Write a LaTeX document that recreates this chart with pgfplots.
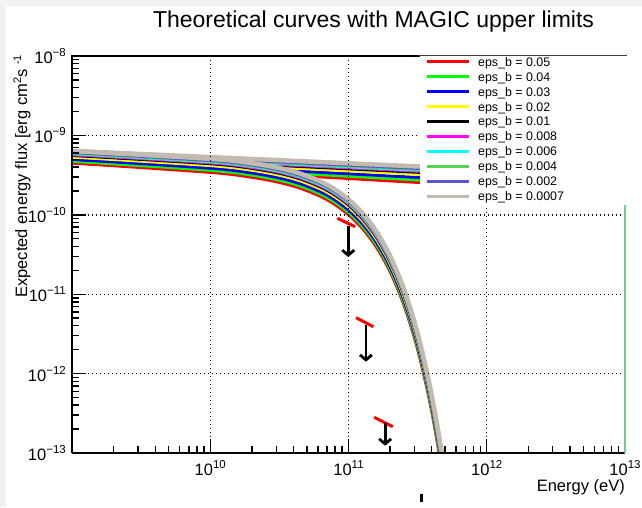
\documentclass[border=0pt]{standalone}
\usepackage{pgfplots}
\pgfplotsset{compat=1.18}
\usepackage{fontspec}
\setmainfont{Liberation Sans}
\usetikzlibrary{arrows.meta}
\definecolor{cRed}{RGB}{255,0,0}
\definecolor{cGreen}{RGB}{0,255,0}
\definecolor{cBlue}{RGB}{0,0,255}
\definecolor{cYellow}{RGB}{255,255,0}
\definecolor{cBlack}{RGB}{0,0,0}
\definecolor{cMag}{RGB}{255,0,255}
\definecolor{cCyan}{RGB}{0,255,255}
\definecolor{cSlate}{RGB}{89,84,216}
\definecolor{cGreenB}{RGB}{89,212,84}
\definecolor{cGray}{RGB}{195,186,176}
\definecolor{cMint}{RGB}{120,200,150}
\definecolor{cBg}{RGB}{242,242,242}
\newcommand{\pw}[1]{10\raisebox{7pt}{\fontsize{11.5}{12}\selectfont #1}}
\begin{document}
\begin{tikzpicture}[x=1pt,y=1pt]
\fill[cBg] (0,0) rectangle (642,507);
\fill[white] (6,0) rectangle (642,501);
\begin{axis}[
  at={(72pt,54pt)}, anchor=south west,
  scale only axis, width=553pt, height=397pt,
  xmin=9, xmax=13, ymin=-13, ymax=-8,
  axis x line*=bottom, axis y line*=left,
  axis line style={line width=2pt,-},
  tick pos=left, tick align=inside,
  major tick length=14pt, minor tick length=7pt,
  every tick/.style={black, line width=1.4pt},
  xtick={10,11,12,13},
  xticklabels={\pw{10},\pw{11},\pw{12},\pw{13}},
  minor xtick={9.30103,9.47712,9.60206,9.69897,9.77815,9.84510,9.90309,9.95424,
    10.30103,10.47712,10.60206,10.69897,10.77815,10.84510,10.90309,10.95424,
    11.30103,11.47712,11.60206,11.69897,11.77815,11.84510,11.90309,11.95424,
    12.30103,12.47712,12.60206,12.69897,12.77815,12.84510,12.90309,12.95424},
  ytick={-13,-12,-11,-10,-9,-8},
  yticklabels={\pw{−13},\pw{−12},\pw{−11},\pw{−10},\pw{−9},\pw{−8}},
  minor ytick={-12.69897,-12.52288,-12.39794,-12.30103,-12.22185,-12.15490,-12.09691,-12.04576,
    -11.69897,-11.52288,-11.39794,-11.30103,-11.22185,-11.15490,-11.09691,-11.04576,
    -10.69897,-10.52288,-10.39794,-10.30103,-10.22185,-10.15490,-10.09691,-10.04576,
    -9.69897,-9.52288,-9.39794,-9.30103,-9.22185,-9.15490,-9.09691,-9.04576,
    -8.69897,-8.52288,-8.39794,-8.30103,-8.22185,-8.15490,-8.09691,-8.04576},
  grid=major,
  major grid style={black, line width=1.4pt, dash pattern=on 1.4pt off 2.6pt},
  axis on top,
  xticklabel style={font=\fontsize{16.5}{18}\selectfont, anchor=base, inner sep=0pt, yshift=-22pt},
  yticklabel style={font=\fontsize{16.5}{18}\selectfont, anchor=east, inner sep=0pt, xshift=-6pt},
]
% eps_b = 0.05
\addplot[cRed, line width=3pt] coordinates {(9.0,-9.346) (11.52,-9.594)};
\addplot[cRed, line width=3pt, smooth] coordinates {(9.0,-9.347) (10.0,-9.4657) (10.3,-9.5273) (10.5,-9.5920) (10.65,-9.6641) (10.8,-9.7697) (10.9,-9.8679) (11.0,-9.9977) (11.1,-10.1704) (11.2,-10.4016) (11.3,-10.7122) (11.4,-11.1306) (11.5,-11.6950) (11.6,-12.4583) (11.7,-13.4913) (11.8,-14.891)};
% eps_b = 0.04
\addplot[cGreen, line width=3pt] coordinates {(9.0,-9.323) (11.52,-9.563)};
\addplot[cGreen, line width=3pt, smooth] coordinates {(9.0,-9.324) (10.0,-9.4396) (10.3,-9.5002) (10.5,-9.5643) (10.65,-9.6359) (10.8,-9.7410) (10.9,-9.8388) (11.0,-9.9683) (11.1,-10.1407) (11.2,-10.3716) (11.3,-10.6819) (11.4,-11.0999) (11.5,-11.6641) (11.6,-12.4271) (11.7,-13.4598) (11.8,-14.859)};
% eps_b = 0.03
\addplot[cBlue, line width=3pt] coordinates {(9.0,-9.300) (11.52,-9.531)};
\addplot[cBlue, line width=3pt, smooth] coordinates {(9.0,-9.301) (10.0,-9.4130) (10.3,-9.4725) (10.5,-9.5359) (10.65,-9.6070) (10.8,-9.7116) (10.9,-9.8090) (11.0,-9.9382) (11.1,-10.1102) (11.2,-10.3408) (11.3,-10.6506) (11.4,-11.0684) (11.5,-11.6321) (11.6,-12.3948) (11.7,-13.4271) (11.8,-14.826)};
% eps_b = 0.02
\addplot[cYellow, line width=3pt] coordinates {(9.0,-9.271) (11.52,-9.493)};
\addplot[cYellow, line width=3pt, smooth] coordinates {(9.0,-9.272) (10.0,-9.3804) (10.3,-9.4389) (10.5,-9.5016) (10.65,-9.5721) (10.8,-9.6762) (10.9,-9.7733) (11.0,-9.9021) (11.1,-10.0737) (11.2,-10.3039) (11.3,-10.6134) (11.4,-11.0308) (11.5,-11.5942) (11.6,-12.3565) (11.7,-13.3885) (11.8,-14.787)};
% eps_b = 0.01
\addplot[cBlack, line width=3pt] coordinates {(9.0,-9.250) (11.52,-9.466)};
\addplot[cBlack, line width=3pt, smooth] coordinates {(9.0,-9.251) (10.0,-9.3570) (10.3,-9.4148) (10.5,-9.4770) (10.65,-9.5471) (10.8,-9.6509) (10.9,-9.7477) (11.0,-9.8763) (11.1,-10.0477) (11.2,-10.2777) (11.3,-10.5869) (11.4,-11.0041) (11.5,-11.5672) (11.6,-12.3293) (11.7,-13.3610) (11.8,-14.759)};
% eps_b = 0.008
\addplot[cMag, line width=3pt] coordinates {(9.0,-9.240) (11.52,-9.452)};
\addplot[cMag, line width=3pt, smooth] coordinates {(9.0,-9.241) (10.0,-9.3455) (10.3,-9.4027) (10.5,-9.4646) (10.65,-9.5345) (10.8,-9.6380) (10.9,-9.7347) (11.0,-9.8631) (11.1,-10.0344) (11.2,-10.2642) (11.3,-10.5733) (11.4,-10.9903) (11.5,-11.5533) (11.6,-12.3152) (11.7,-13.3468) (11.8,-14.745)};
% eps_b = 0.006
\addplot[cCyan, line width=3pt] coordinates {(9.0,-9.230) (11.52,-9.439)};
\addplot[cCyan, line width=3pt, smooth] coordinates {(9.0,-9.231) (10.0,-9.3343) (10.3,-9.3912) (10.5,-9.4528) (10.65,-9.5226) (10.8,-9.6259) (10.9,-9.7224) (11.0,-9.8507) (11.1,-10.0219) (11.2,-10.2516) (11.3,-10.5606) (11.4,-10.9774) (11.5,-11.5403) (11.6,-12.3021) (11.7,-13.3336) (11.8,-14.731)};
% eps_b = 0.004
\addplot[cGreenB, line width=3pt] coordinates {(9.0,-9.223) (11.52,-9.430)};
\addplot[cGreenB, line width=3pt, smooth] coordinates {(9.0,-9.224) (10.0,-9.3265) (10.3,-9.3832) (10.5,-9.4447) (10.65,-9.5143) (10.8,-9.6174) (10.9,-9.7139) (11.0,-9.8421) (11.1,-10.0132) (11.2,-10.2428) (11.3,-10.5517) (11.4,-10.9685) (11.5,-11.5313) (11.6,-12.2930) (11.7,-13.3244) (11.8,-14.722)};
% eps_b = 0.002
\addplot[cSlate, line width=3pt] coordinates {(9.0,-9.214) (11.52,-9.417)};
\addplot[cSlate, line width=3pt, smooth] coordinates {(9.0,-9.215) (10.0,-9.3159) (10.3,-9.3721) (10.5,-9.4333) (10.65,-9.5026) (10.8,-9.6056) (10.9,-9.7019) (11.0,-9.8300) (11.1,-10.0009) (11.2,-10.2303) (11.3,-10.5391) (11.4,-10.9557) (11.5,-11.5184) (11.6,-12.2799) (11.7,-13.3111) (11.8,-14.709)};
% eps_b = 0.0007
\addplot[cGray, line width=4.5pt] coordinates {(9.0,-9.195) (11.52,-9.392)};
\addplot[cGray, line width=4.5pt, smooth] coordinates {(9.0,-9.196) (10.0,-9.2945) (10.3,-9.350) (10.5,-9.4107) (10.65,-9.4797) (10.8,-9.5823) (10.9,-9.6784) (11.0,-9.8062) (11.1,-9.9769) (11.2,-10.2061) (11.3,-10.5146) (11.4,-10.9310) (11.5,-11.4934) (11.6,-12.2547) (11.7,-13.2857) (11.8,-14.683)};
% MAGIC upper limits
\addplot[cRed, line width=3pt] coordinates {(10.920,-10.044) (11.048,-10.150)};
\addplot[black, line width=2.8pt, -{Straight Barb[length=5pt,width=12pt]}] coordinates {(10.998,-10.141) (10.998,-10.531)};
\addplot[cRed, line width=3pt] coordinates {(11.055,-11.296) (11.180,-11.409)};
\addplot[black, line width=2.8pt, -{Straight Barb[length=5pt,width=12pt]}] coordinates {(11.126,-11.388) (11.126,-11.850)};
\addplot[cRed, line width=3pt] coordinates {(11.186,-12.550) (11.321,-12.669)};
\addplot[black, line width=2.8pt, -{Straight Barb[length=5pt,width=12pt]}] coordinates {(11.265,-12.626) (11.265,-12.908)};
\end{axis}
% frame top and legend box
\fill[white] (420,302) rectangle (627,451);
\draw[line width=2pt] (71,451) -- (420,451);
\draw[line width=1pt, black!75] (418,451.5) -- (627,451.5);
\draw[cMint, line width=2pt] (625,54) -- (625,302);
\foreach \c/\t [count=\k from 0] in {cRed/0.05, cGreen/0.04, cBlue/0.03, cYellow/0.02, cBlack/0.01, cMag/0.008, cCyan/0.006, cGreenB/0.004, cSlate/0.002, cGray/0.0007}{
  \draw[\c, line width=3pt] (427,445-14.9*\k) -- (469,445-14.9*\k);
  \node[anchor=base west, inner sep=0pt, font=\fontsize{12.4}{14}\selectfont] at (478,445-14.9*\k-4.4) {eps\_b = \t};
}
% titles
\node[anchor=base, inner sep=0pt, font=\fontsize{23}{26}\selectfont] at (373.5,479) {Theoretical curves with MAGIC upper limits};
\node[rotate=90, anchor=base east, inner sep=0pt, font=\fontsize{16.5}{18}\selectfont] at (27,452) {Expected energy flux [erg cm\raisebox{6pt}{\fontsize{11}{12}\selectfont 2}s \raisebox{6pt}{\fontsize{11}{12}\selectfont -1}};
\node[anchor=base east, inner sep=0pt, font=\fontsize{16.5}{18}\selectfont] at (625,16) {Energy (eV)};
\draw[line width=3pt] (421,5) -- (421,13);
\pgfresetboundingbox
\path[use as bounding box] (0,0) rectangle (642,507);
\end{tikzpicture}
\end{document}
